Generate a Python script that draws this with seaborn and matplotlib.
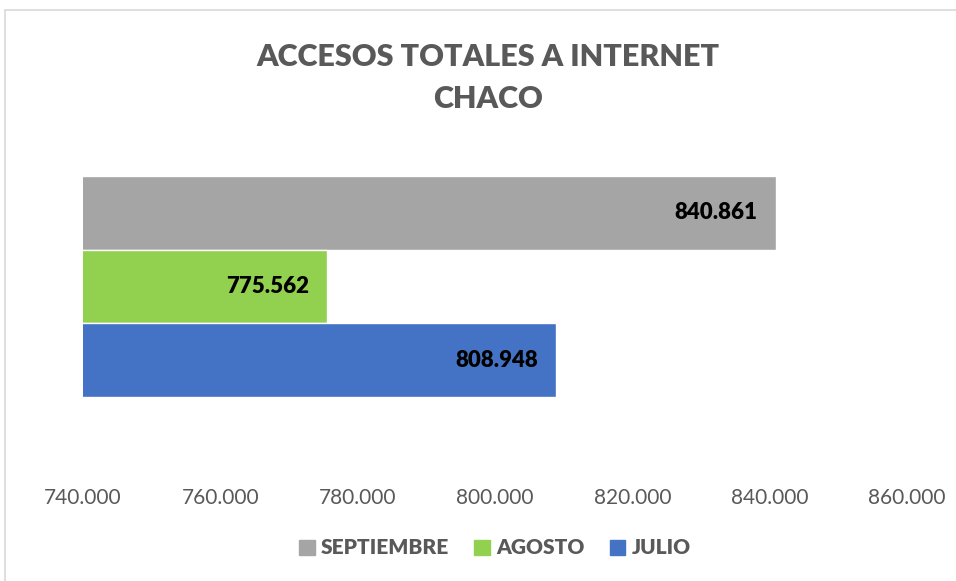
import pandas as pd
import matplotlib
matplotlib.use("Agg")
import matplotlib.pyplot as plt
import seaborn as sns
from matplotlib.patches import Rectangle
from matplotlib.ticker import FuncFormatter

# Data
meses = ["SEPTIEMBRE", "AGOSTO", "JULIO"]
accesos = [840861, 775562, 808948]
colores = ["#a5a5a5", "#92d050", "#4472c4"]
provincia = "CHACO"
x_ticks = [740000, 760000, 780000, 800000, 820000, 840000, 860000]

df = pd.DataFrame({"provincia": provincia, "mes": meses, "accesos": accesos})

sns.set_style("white")
plt.rcParams["font.family"] = ["Lato", "DejaVu Sans"]

gris = "#595959"


def miles(v, pos=None):
    return f"{v:,.0f}".replace(",", ".")


fig = plt.figure(figsize=(9.56, 5.81), dpi=100)
W, H = 956, 581
# axes placed in pixel terms
ax = fig.add_axes([83 / W, (H - 424.5) / H, (907 - 83) / W, 276 / H])

sns.barplot(data=df, x="accesos", y="provincia", hue="mes", hue_order=meses,
            palette=colores, orient="h", width=0.8, errorbar=None,
            saturation=1, legend=False, ax=ax)

ax.set_xlim(x_ticks[0], x_ticks[-1])
ax.set_ylim(0.5, -0.5)
ax.set_xticks(x_ticks)
ax.xaxis.set_major_formatter(FuncFormatter(miles))
ax.tick_params(axis="x", length=0, pad=46, labelsize=15, labelcolor=gris)
ax.set_yticks([])
ax.set_xlabel("")
ax.set_ylabel("")
for s in ax.spines.values():
    s.set_visible(False)

# data labels inside the bar ends
for cont in ax.containers:
    anns = ax.bar_label(cont, labels=[miles(b.get_width()) for b in cont],
                        padding=-13, fontsize=16, fontweight="heavy", color="black")
    for a in anns:
        a.set_ha("right")

fig.suptitle("ACCESOS TOTALES A INTERNET\nCHACO", x=488 / W, y=(H - 78) / H,
             va="center", fontsize=22, fontweight="heavy", color=gris, linespacing=1.65)

handles = [Rectangle((0, 0), 1, 1, color=c) for c in colores]
leg = fig.legend(handles, meses, loc="center", bbox_to_anchor=(495 / W, (H - 548) / H),
                 ncol=3, frameon=False, handlelength=0.75, handleheight=0.75,
                 handletextpad=0.3, columnspacing=1.2,
                 prop={"size": 15, "weight": "heavy"})
for t in leg.get_texts():
    t.set_color(gris)

# chart border
fig.patches.append(Rectangle((5 / W, -0.1), 1.2, (H - 10) / H + 0.1, transform=fig.transFigure,
                             fill=False, edgecolor="#d9d9d9", linewidth=1.2, figure=fig))

fig.savefig("out.png", dpi=100)
